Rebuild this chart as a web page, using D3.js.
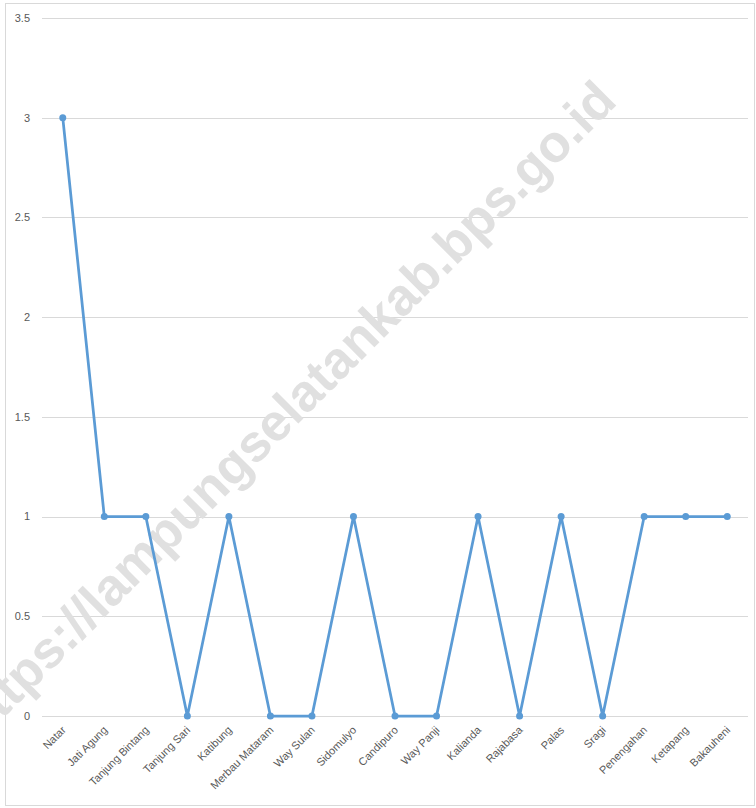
<!DOCTYPE html>
<html>
<head>
<meta charset="UTF-8">
<script src="https://cdn.jsdelivr.net/npm/d3@7"></script>
<style>
  body { margin: 0; background: #fff; }
  svg { display: block; }
</style>
</head>
<body>
<svg id="chart" width="756" height="808"></svg>
<script>
  var categories = ["Natar", "Jati Agung", "Tanjung Bintang", "Tanjung Sari", "Katibung", "Merbau Mataram", "Way Sulan", "Sidomulyo", "Candipuro", "Way Panji", "Kalianda", "Rajabasa", "Palas", "Sragi", "Penengahan", "Ketapang", "Bakauheni"]
  var values = [3, 1, 1, 0, 1, 0, 0, 1, 0, 0, 1, 0, 1, 0, 1, 1, 1]
  var yTicks = [0, 0.5, 1, 1.5, 2, 2.5, 3, 3.5]

  var svg = d3.select("#chart")
  var W = 756, H = 808
  var plotLeft = 42, plotRight = 748, plotTop = 18, plotBottom = 716

  // chart border
  svg.append("rect").attr("x", 5.5).attr("y", 3.5).attr("width", W - 7).attr("height", H - 6)
    .attr("fill", "#fff").attr("stroke", "#d9d9d9")

  var x = d3.scalePoint().domain(categories).range([plotLeft, plotRight]).padding(0.5)
  var y = d3.scaleLinear().domain([0, 3.5]).range([plotBottom, plotTop])

  // gridlines
  svg.append("g").selectAll("line").data(yTicks).join("line")
    .attr("x1", plotLeft).attr("x2", plotRight)
    .attr("y1", d => Math.round(y(d)) + 0.5).attr("y2", d => Math.round(y(d)) + 0.5)
    .attr("stroke", "#d9d9d9").attr("stroke-width", 1)

  // y labels
  svg.append("g").selectAll("text").data(yTicks).join("text")
    .attr("x", 30).attr("y", d => y(d)).attr("dy", "0.35em")
    .attr("text-anchor", "end")
    .attr("font-family", "Liberation Sans, Arial, sans-serif").attr("font-size", 11)
    .attr("fill", "#595959")
    .text(d => d)

  // x labels
  svg.append("g").selectAll("text").data(categories).join("text")
    .attr("transform", d => "translate(" + (x(d) + 1) + "," + (plotBottom + 12) + ") rotate(-45)")
    .attr("text-anchor", "end").attr("dy", "0.35em")
    .attr("font-family", "Liberation Sans, Arial, sans-serif").attr("font-size", 11)
    .attr("fill", "#595959")
    .text(d => d)

  // watermark
  svg.append("text")
    .attr("transform", "translate(286,410) rotate(-45)")
    .attr("text-anchor", "middle").attr("dy", "0.35em")
    .attr("font-family", "Liberation Sans, Arial, sans-serif").attr("font-weight", "bold")
    .attr("font-size", 52).attr("fill", "#e0e0e0")
    .text("https://lampungselatankab.bps.go.id")

  // line
  var line = d3.line().x((d, i) => x(categories[i])).y(d => y(d))
  svg.append("path").datum(values).attr("d", line)
    .attr("fill", "none").attr("stroke", "#5b9bd5").attr("stroke-width", 2.75)
    .attr("stroke-linejoin", "round")

  svg.append("g").selectAll("circle").data(values).join("circle")
    .attr("cx", (d, i) => x(categories[i])).attr("cy", d => y(d)).attr("r", 3.5)
    .attr("fill", "#5b9bd5")
</script>
</body>
</html>
